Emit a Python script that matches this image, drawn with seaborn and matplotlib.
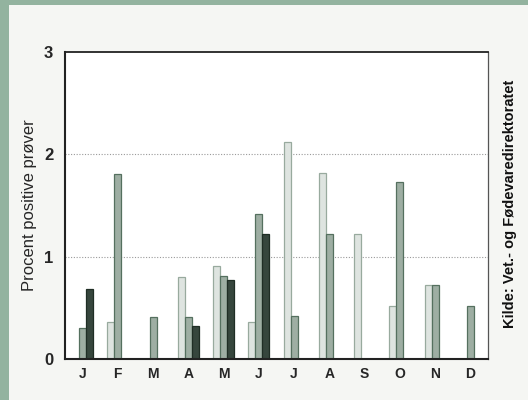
import pandas as pd
import numpy as np
import matplotlib
matplotlib.use("Agg")
import matplotlib.pyplot as plt
import seaborn as sns
from matplotlib.patches import Rectangle
from matplotlib.ticker import MultipleLocator, FixedLocator

# Data (percent positive samples per month, three series)
months = ["J", "F", "M", "A", "M", "J", "J", "A", "S", "O", "N", "D"]
serie_1 = [np.nan, 0.36, np.nan, 0.80, 0.91, 0.36, 2.12, 1.82, 1.22, 0.52, 0.72, np.nan]
serie_2 = [0.30, 1.81, 0.41, 0.41, 0.81, 1.42, 0.42, 1.22, np.nan, 1.73, 0.72, 0.52]
serie_3 = [0.68, np.nan, np.nan, 0.32, 0.77, 1.22, np.nan, np.nan, np.nan, np.nan, np.nan, np.nan]
series_names = ["Serie 1", "Serie 2", "Serie 3"]

# long format for seaborn
rows = []
for name, vals in zip(series_names, [serie_1, serie_2, serie_3]):
    for i, v in enumerate(vals):
        rows.append({"pos": i, "serie": name, "pct": v})
df = pd.DataFrame(rows)

sns.set_style("white")
plt.rcParams["font.family"] = ["Liberation Sans", "DejaVu Sans"]

fig = plt.figure(figsize=(5.28, 4.0), dpi=100)
fig.patch.set_facecolor("#93b39f")
# off-white paper on top of the green border
fig.add_artist(Rectangle((9 / 528, 0), 1, 395 / 400, transform=fig.transFigure,
                         facecolor="#f5f6f3", edgecolor="none", zorder=-10))

ax = fig.add_axes([65 / 528, 41 / 400, 423 / 528, 307 / 400])
ax.set_facecolor("white")

fills = ["#dde5df", "#9bb1a2", "#34483c"]
edges = ["#98aa9e", "#55705f", "#1f2e25"]

sns.barplot(data=df, x="pos", y="pct", hue="serie", hue_order=series_names,
            palette=fills, width=0.6, legend=False, ax=ax, native_scale=True)

# edge colours per series
for cont, ec in zip(ax.containers, edges):
    for bar in cont:
        bar.set_edgecolor(ec)
        bar.set_linewidth(0.9)

ax.set_xlim(-0.5, 11.5)
ax.set_ylim(0, 3)

# y axis
ax.yaxis.set_major_locator(MultipleLocator(1))
ax.yaxis.set_minor_locator(MultipleLocator(0.5))
ax.tick_params(axis="y", which="major", direction="inout", length=7, width=1.2,
               color="#222222", labelsize=12, pad=5)
ax.tick_params(axis="y", which="minor", direction="in", length=3, width=1, color="#444444")
for lab in ax.get_yticklabels():
    lab.set_fontweight("bold")

# x axis: ticks at month boundaries, labels at month centres
ax.xaxis.set_major_locator(FixedLocator(np.arange(-0.5, 12, 1)))
ax.xaxis.set_minor_locator(FixedLocator(np.arange(12)))
ax.set_xticklabels([""] * 13)
ax.set_xticklabels(months, minor=True, fontsize=10, fontweight="bold")
ax.tick_params(axis="x", which="major", direction="inout", length=8, width=1.1, color="#222222")
ax.tick_params(axis="x", which="minor", length=0, pad=6)

ax.set_xlabel("")
ax.set_ylabel("Procent positive prøver", fontsize=12, labelpad=5)

# dotted grid lines
for yv in [1, 2]:
    ax.axhline(yv, color="#9a9a9a", linestyle=(0, (1, 1.5)), linewidth=0.8, zorder=0.5)

for side in ["left", "bottom"]:
    ax.spines[side].set_linewidth(1.5)
    ax.spines[side].set_color("#222222")
ax.spines["top"].set_linewidth(1.3)
ax.spines["top"].set_color("#222222")
ax.spines["right"].set_linewidth(0.9)
ax.spines["right"].set_color("#555555")

fig.text(510 / 528, (400 - 204) / 400, "Kilde: Vet.- og Fødevaredirektoratet",
         rotation=90, ha="center", va="center", fontsize=10.5, fontweight="bold",
         color="#111111")

fig.savefig("out.png", dpi=100, facecolor=fig.get_facecolor())
